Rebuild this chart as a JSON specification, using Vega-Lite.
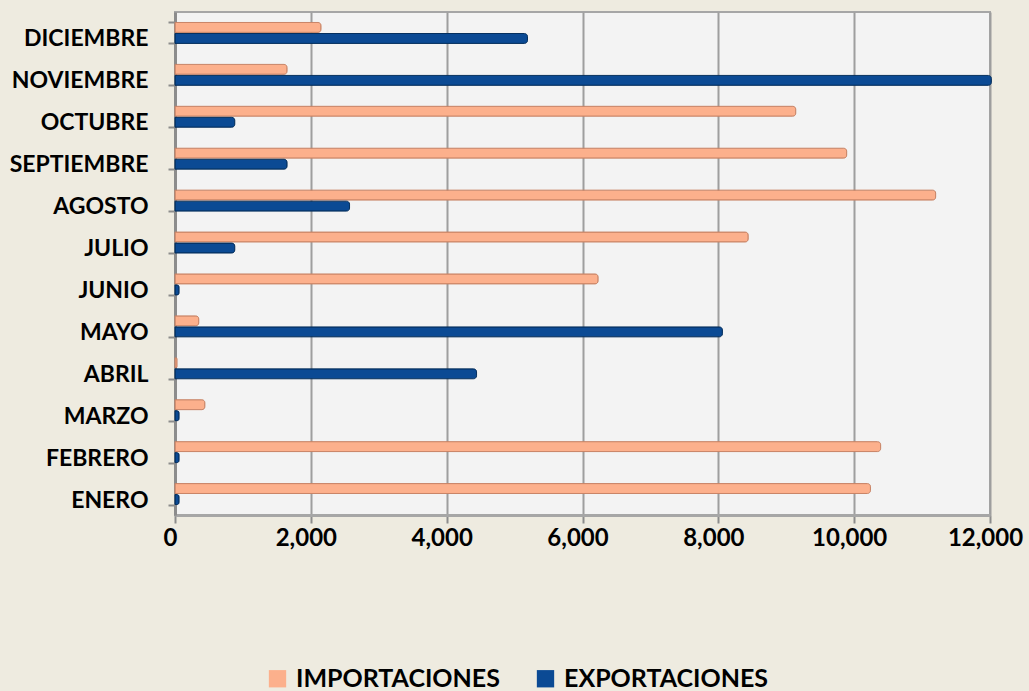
{
  "$schema": "https://vega.github.io/schema/vega-lite/v6.json",
  "autosize": "none",
  "width": 815,
  "height": 503,
  "padding": {"left": 175, "top": 12, "right": 39, "bottom": 176},
  "background": "#EEEBE0",
  "config": {
    "view": {"fill": "#F3F3F3", "stroke": "#A6A6A6", "strokeWidth": 2},
    "font": "Lato"
  },
  "data": {
    "values": [
      {"mes": "ENERO", "serie": "IMPORTACIONES", "valor": 10240},
      {"mes": "ENERO", "serie": "EXPORTACIONES", "valor": 60},
      {"mes": "FEBRERO", "serie": "IMPORTACIONES", "valor": 10390},
      {"mes": "FEBRERO", "serie": "EXPORTACIONES", "valor": 60},
      {"mes": "MARZO", "serie": "IMPORTACIONES", "valor": 440},
      {"mes": "MARZO", "serie": "EXPORTACIONES", "valor": 60},
      {"mes": "ABRIL", "serie": "IMPORTACIONES", "valor": 30},
      {"mes": "ABRIL", "serie": "EXPORTACIONES", "valor": 4440},
      {"mes": "MAYO", "serie": "IMPORTACIONES", "valor": 350},
      {"mes": "MAYO", "serie": "EXPORTACIONES", "valor": 8060},
      {"mes": "JUNIO", "serie": "IMPORTACIONES", "valor": 6230},
      {"mes": "JUNIO", "serie": "EXPORTACIONES", "valor": 60},
      {"mes": "JULIO", "serie": "IMPORTACIONES", "valor": 8440},
      {"mes": "JULIO", "serie": "EXPORTACIONES", "valor": 880},
      {"mes": "AGOSTO", "serie": "IMPORTACIONES", "valor": 11200},
      {"mes": "AGOSTO", "serie": "EXPORTACIONES", "valor": 2570},
      {"mes": "SEPTIEMBRE", "serie": "IMPORTACIONES", "valor": 9890},
      {"mes": "SEPTIEMBRE", "serie": "EXPORTACIONES", "valor": 1650},
      {"mes": "OCTUBRE", "serie": "IMPORTACIONES", "valor": 9140},
      {"mes": "OCTUBRE", "serie": "EXPORTACIONES", "valor": 880},
      {"mes": "NOVIEMBRE", "serie": "IMPORTACIONES", "valor": 1650},
      {"mes": "NOVIEMBRE", "serie": "EXPORTACIONES", "valor": 12020},
      {"mes": "DICIEMBRE", "serie": "IMPORTACIONES", "valor": 2150},
      {"mes": "DICIEMBRE", "serie": "EXPORTACIONES", "valor": 5190}
    ]
  },
  "mark": {"type": "bar", "cornerRadiusEnd": 3, "strokeWidth": 1},
  "encoding": {
    "y": {
      "field": "mes",
      "type": "nominal",
      "sort": ["DICIEMBRE", "NOVIEMBRE", "OCTUBRE", "SEPTIEMBRE", "AGOSTO", "JULIO", "JUNIO", "MAYO", "ABRIL", "MARZO", "FEBRERO", "ENERO"],
      "scale": {"paddingInner": 0.5, "paddingOuter": 0.25},
      "axis": {
        "title": null,
        "labelFont": "Lato",
        "labelFontWeight": "bold",
        "labelFontSize": 23,
        "labelColor": "#000000",
        "labelPadding": 20,
        "labelOffset": 6,
        "labelLimit": 0,
        "tickBand": "extent",
        "tickColor": "#8C8C8C",
        "tickSize": 7,
        "tickWidth": 2,
        "domainColor": "#8C8C8C",
        "domainWidth": 3
      }
    },
    "yOffset": {
      "field": "serie",
      "type": "nominal",
      "sort": ["IMPORTACIONES", "EXPORTACIONES"],
      "scale": {"paddingInner": 0.1}
    },
    "x": {
      "field": "valor",
      "type": "quantitative",
      "scale": {"domain": [0, 12000], "nice": false},
      "axis": {
        "title": null,
        "values": [0, 2000, 4000, 6000, 8000, 10000, 12000],
        "format": ",.0f",
        "labelFont": "Lato",
        "labelFontWeight": "bold",
        "labelFontSize": 24,
        "labelColor": "#000000",
        "labelPadding": 3,
        "labelOffset": -5,
        "labelFlush": false,
        "tickColor": "#8C8C8C",
        "tickSize": 8,
        "tickWidth": 2,
        "domainColor": "#A6A6A6",
        "domainWidth": 3,
        "gridColor": "#9E9E9E",
        "gridWidth": 2
      }
    },
    "color": {
      "field": "serie",
      "type": "nominal",
      "sort": ["IMPORTACIONES", "EXPORTACIONES"],
      "scale": {"domain": ["IMPORTACIONES", "EXPORTACIONES"], "range": ["#FCB08C", "#0B4A94"]},
      "legend": {
        "title": null,
        "orient": "none",
        "direction": "horizontal",
        "legendX": 90,
        "legendY": 654,
        "symbolType": "square",
        "symbolSize": 300,
        "symbolStrokeWidth": 0,
        "labelFont": "Lato",
        "labelFontWeight": "bold",
        "labelFontSize": 25,
        "labelLimit": 0,
        "labelColor": "#000000",
        "labelOffset": 6,
        "columnPadding": 33
      }
    },
    "stroke": {
      "field": "serie",
      "type": "nominal",
      "scale": {"domain": ["IMPORTACIONES", "EXPORTACIONES"], "range": ["#C98466", "#05305F"]},
      "legend": null
    }
  }
}
